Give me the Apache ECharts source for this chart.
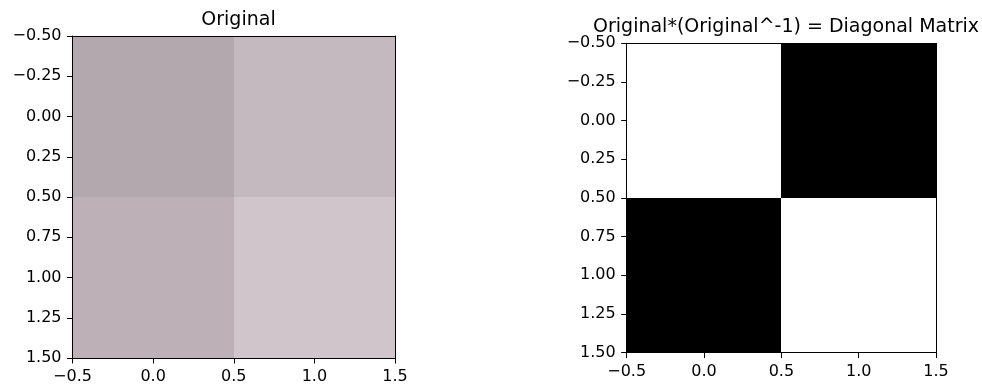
<!DOCTYPE html>
<html>
<head>
<meta charset="utf-8">
<script src="https://cdn.jsdelivr.net/npm/echarts@6/dist/echarts.min.js"></script>
<style>
html,body{margin:0;padding:0;background:#fff;}
#chart{width:982px;height:385px;}
</style>
</head>
<body>
<div id="chart"></div>
<script>
// ---- data ----
const leftTitle = 'Original';
const rightTitle = 'Original*(Original^-1) = Diagonal Matrix';
const cols = [0, 1];
const rows = [0, 1];
// colours of the original 2x2 image, row by row
const originalColors = [['#b3a8ad', '#c4b9bf'], ['#bdb1b7', '#d0c5cb']];
// product matrix values (gray colormap: 0 = black, 1 = white)
const productValues = [[1, 0], [0, 1]];
const xTicks = [-0.5, 0.0, 0.5, 1.0, 1.5];
const yTicks = [-0.5, -0.25, 0.0, 0.25, 0.5, 0.75, 1.0, 1.25, 1.5];

const FONT = 'DejaVu Sans';
function fmt(v, d) { return (v < 0 ? '\u2212' : '') + Math.abs(v).toFixed(d); }

const leftCells = [];
rows.forEach(r => cols.forEach(c => leftCells.push({ value: [c, r], itemStyle: { color: originalColors[r][c] } })));
const rightCells = [];
rows.forEach(r => cols.forEach(c => {
  const g = Math.round(productValues[r][c] * 255);
  rightCells.push({ value: [c, r, productValues[r][c]], itemStyle: { color: 'rgb(' + g + ',' + g + ',' + g + ')' } });
}));

function renderCell(params, api) {
  const x = api.value(0), y = api.value(1);
  const p0 = api.coord([x - 0.5, y - 0.5]);
  const p1 = api.coord([x + 0.5, y + 0.5]);
  const x0 = Math.round(Math.min(p0[0], p1[0])), x1 = Math.round(Math.max(p0[0], p1[0]));
  const y0 = Math.round(Math.min(p0[1], p1[1])), y1 = Math.round(Math.max(p0[1], p1[1]));
  return {
    type: 'rect',
    shape: { x: x0, y: y0, width: x1 - x0, height: y1 - y0 },
    style: { fill: api.visual('color') }
  };
}

const xMin = xTicks[0], xMax = xTicks[xTicks.length - 1];
const yMin = yTicks[0], yMax = yTicks[yTicks.length - 1];
const lbl = { fontFamily: FONT, fontSize: 16, color: '#000' };

function axesFor(gi) {
  return {
    x: [
      { type: 'value', gridIndex: gi, min: xMin, max: xMax, interval: 0.5, position: 'bottom', z: 10,
        axisLine: { show: true, onZero: false, lineStyle: { color: '#000', width: 1 } },
        axisTick: { show: true, length: 5.5, lineStyle: { color: '#000', width: 1 } },
        axisLabel: Object.assign({ margin: 11, formatter: v => fmt(v, 1) }, lbl),
        splitLine: { show: false } },
      { type: 'value', gridIndex: gi, min: xMin, max: xMax, position: 'top', z: 10,
        axisLine: { show: true, onZero: false, lineStyle: { color: '#000', width: 1 } },
        axisTick: { show: false }, axisLabel: { show: false }, splitLine: { show: false } }
    ],
    y: [
      { type: 'value', gridIndex: gi, min: yMin, max: yMax, interval: 0.25, inverse: true, position: 'left', z: 10,
        axisLine: { show: true, onZero: false, lineStyle: { color: '#000', width: 1 } },
        axisTick: { show: true, length: 5.5, lineStyle: { color: '#000', width: 1 } },
        axisLabel: Object.assign({ margin: 11, formatter: v => fmt(v, 2) }, lbl),
        splitLine: { show: false } },
      { type: 'value', gridIndex: gi, min: yMin, max: yMax, inverse: true, position: 'right', z: 10,
        axisLine: { show: true, onZero: false, lineStyle: { color: '#000', width: 1 } },
        axisTick: { show: false }, axisLabel: { show: false }, splitLine: { show: false } }
    ]
  };
}
const a0 = axesFor(0), a1 = axesFor(1);

const chart = echarts.init(document.getElementById('chart'), null, { renderer: 'canvas' });
chart.setOption({
  animation: false,
  backgroundColor: '#fff',
  title: [
    { text: leftTitle, left: 233.5, top: 6, textAlign: 'center', textStyle: { fontFamily: FONT, fontSize: 19, fontWeight: 'normal', color: '#000' } },
    { text: rightTitle, left: 781, top: 13, textAlign: 'center', textStyle: { fontFamily: FONT, fontSize: 19, fontWeight: 'normal', color: '#000' } }
  ],
  grid: [
    { left: 72.5, top: 36, width: 322.5, height: 323 },
    { left: 626.7, top: 43.3, width: 309.3, height: 309.3 }
  ],
  xAxis: a0.x.concat(a1.x),
  yAxis: a0.y.concat(a1.y),
  series: [
    { type: 'custom', xAxisIndex: 0, yAxisIndex: 0, renderItem: renderCell, data: leftCells, encode: { x: 0, y: 1 } },
    { type: 'custom', xAxisIndex: 2, yAxisIndex: 2, renderItem: renderCell, data: rightCells, encode: { x: 0, y: 1 } }
  ]
});
</script>
</body>
</html>
